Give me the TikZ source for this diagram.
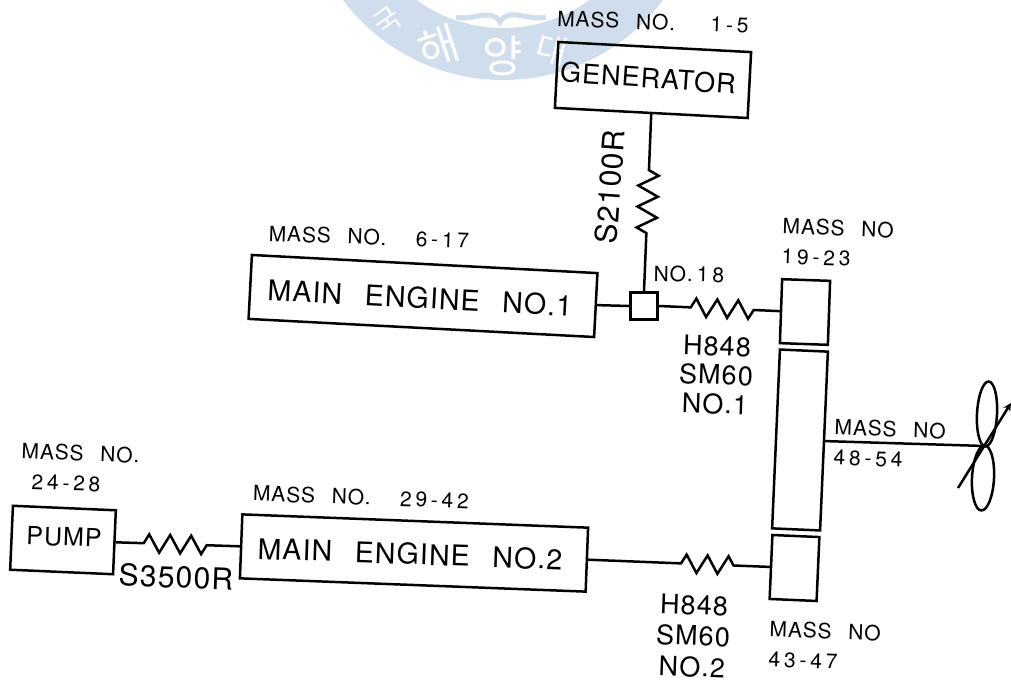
\documentclass[tikz,border=0pt]{standalone}
\usepackage{fontspec}
\setmainfont[LetterSpace=4,WordSpace=2.5]{TeX Gyre Heros}
\newfontfamily\hangul{Noto Sans CJK KR}
\newcommand{\dgt}[1]{{\addfontfeature{LetterSpace=18}#1}}
\usepackage{tikz}
\usetikzlibrary{shapes.geometric, arrows}
\usetikzlibrary{decorations.pathmorphing}
\definecolor{stamp}{RGB}{208,221,236}
\tikzstyle{block} = [rectangle, draw=black, line width=2.5pt, inner sep=0pt, text centered]
\tikzstyle{tag} = [inner sep=0pt, rotate=-2, font=\fontsize{21}{30}\selectfont]
\tikzstyle{bigtag} = [inner sep=0pt, rotate=-2, font=\fontsize{30}{30}\selectfont]
\tikzstyle{enginetag} = [inner sep=0pt, font=\fontsize{28.5}{30}\selectfont]
\tikzstyle{blade} = [ellipse, draw=black, line width=2.5pt, inner sep=0pt]
\tikzstyle{shaft} = [draw=black, line width=2.5pt]
\tikzstyle{spring} = [shaft, decorate, decoration={zigzag, segment length=21pt, amplitude=9pt}]
\tikzstyle{arrow} = [line width=2.5pt,->,>=stealth]
\tikzstyle{stampchar} = [inner sep=0pt, text=white, font=\hangul\fontsize{44}{44}\selectfont]

\begin{document}
\begin{tikzpicture}[x=1pt, y=-1pt]
                                \useasboundingbox (0,0) rectangle (1011,682);
                                % stamp behind the drawing
                                \begin{scope}
                                    \clip (0,0) rectangle (1011,682);
                                    \fill [stamp, even odd rule] (503,-120) circle (200) (503,-120) circle (148);
                                    \node (m1) [stampchar, rotate=35, font=\hangul\fontsize{28}{28}\selectfont] at (387,21) {국};
                                    \node (m2) [stampchar, rotate=18] at (439,47) {해};
                                    \node (m3) [stampchar] at (503,56) {양};
                                    \node (m4) [stampchar, rotate=-15, font=\hangul\fontsize{34}{34}\selectfont] at (552,50) {대};
                                    \draw [stamp, line width=5pt] (456,17) to [out = -15, in = 120] (500,22) to [out = 60, in = 195] (546,17);
                                \end{scope}
                                % blocks
                                \node (gen) [block, minimum width=193pt, minimum height=66pt, rotate=-3] at (653,80) {};
                                \node (eng1) [block, minimum width=346pt, minimum height=64pt, rotate=-3] at (423,296) {};
                                \node (eng2) [block, minimum width=346pt, minimum height=64pt, rotate=-2.2] at (414,553) {};
                                \node (pump) [block, minimum width=103pt, minimum height=64pt, rotate=-2.5] at (63,540) {};
                                \node (sq) [block, minimum size=27pt] at (644,306) {};
                                \node (gear1) [block, minimum width=48pt, minimum height=64pt, rotate=-2] at (805,312) {};
                                \node (gear) [block, minimum width=48pt, minimum height=179pt, rotate=-2.5] at (800,440) {};
                                \node (gear2) [block, minimum width=47pt, minimum height=64pt, rotate=-2.5] at (794.5,568) {};
                                % block texts
                                \node (t1) [bigtag, rotate=-2, font=\fontsize{27}{30}\selectfont] at (648,78) {GENERATOR};
                                \node (t2) [enginetag, rotate=-3] at (420,298) {MAIN ENGINE NO.1};
                                \node (t3) [enginetag, rotate=-2] at (410,554) {MAIN ENGINE NO.2};
                                \node (t4) [bigtag, font=\fontsize{25}{30}\selectfont] at (64,537) {PUMP};
                                % connectors
                                \draw [spring, decoration={pre length=56pt, post length=58pt, amplitude=10pt}] (gen.south) -- (sq.north);
                                \draw [shaft] (eng1.east) -- (sq.west);
                                \draw [spring, decoration={pre length=32pt, post length=26pt}] (sq.east) -- (gear1.west);
                                \draw [spring, decoration={pre length=28pt, post length=30pt}] (pump.east) -- (eng2.west);
                                \draw [spring, decoration={pre length=93pt, post length=27pt}] (eng2.east) -- (gear2.west);
                                % propeller
                                \coordinate (hub) at (985,446);
                                \coordinate (tail) at (958,488);
                                \coordinate (head) at (1011,403);
                                \node (up) [blade, minimum width=20pt, minimum height=65pt, rotate=-3] at (987,414) {};
                                \node (down) [blade, minimum width=22pt, minimum height=65pt, rotate=-3] at (983,478) {};
                                \draw [shaft] (gear.east) -- (hub);
                                \draw [arrow] (tail) -- (head);
                                % labels
                                \node (l1) [tag] at (653,22) {MASS NO.\hspace{.9em} \dgt{1-5}};
                                \node (l2) [tag] at (369,237) {MASS NO.\hspace{.6em} \dgt{6-17}};
                                \node (l3) [tag, anchor=west, align=left] at (782,241) {MASS NO\\\dgt{19-23}};
                                \node (l4) [tag, rotate=1] at (689,274) {NO.\hspace{.2em}\dgt{18}};
                                \node (l5) [bigtag, rotate=88] at (610,187) {S2100R};
                                \node (l6) [bigtag, align=center, font=\fontsize{27}{29}\selectfont] at (716,375) {H848\\SM60\\NO.1};
                                \node (l7) [tag, anchor=west, align=left] at (834,442) {MASS NO\\\dgt{48-54}};
                                \node (l8) [tag, anchor=west, align=left] at (21,466) {MASS NO.\\\hspace*{11pt}\dgt{24-28}};
                                \node (l9) [tag] at (361,497) {MASS NO.\hspace{.6em} \dgt{29-42}};
                                \node (l10) [bigtag] at (176,577) {S3500R};
                                \node (l11) [bigtag, align=center, font=\fontsize{27}{31}\selectfont] at (693,636) {H848\\SM60\\NO.2};
                                \node (l12) [tag, anchor=west, align=left] at (769,644) {MASS NO\\\dgt{43-47}};
                            \end{tikzpicture}
\end{document}
